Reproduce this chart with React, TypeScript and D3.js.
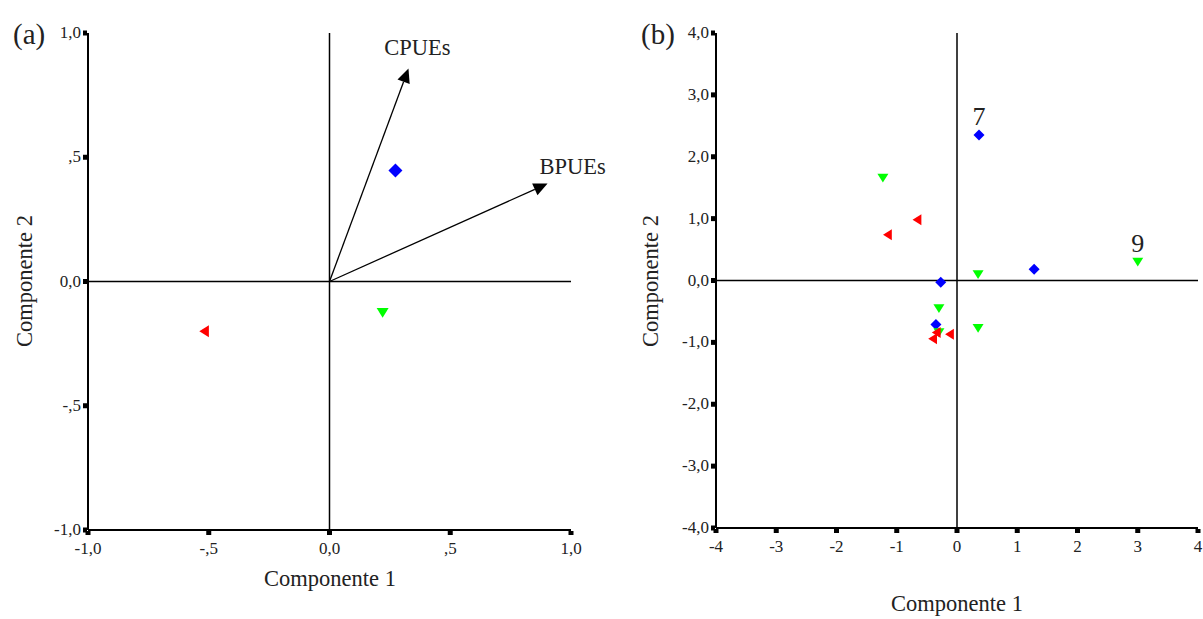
import React from "react";
import * as d3 from "d3";

// Panel (a) data
const aXTicks = [-1, -0.5, 0, 0.5, 1];
const aYTicks = [-1, -0.5, 0, 0.5, 1];
const aTickLabels = ["-1,0", "-,5", "0,0", ",5", "1,0"];
const vectorNames = ["CPUEs", "BPUEs"];
const vectorX = [0.327, 0.903];
const vectorY = [0.857, 0.394];
const aPointGroup = ["diamond", "down", "left"];
const aPointX = [0.273, 0.22, -0.518];
const aPointY = [0.447, -0.125, -0.2];

// Panel (b) data
const bXTicks = [-4, -3, -2, -1, 0, 1, 2, 3, 4];
const bXTickLabels = ["-4", "-3", "-2", "-1", "0", "1", "2", "3", "4"];
const bYTicks = [-4, -3, -2, -1, 0, 1, 2, 3, 4];
const bYTickLabels = ["-4,0", "-3,0", "-2,0", "-1,0", "0,0", "1,0", "2,0", "3,0", "4,0"];
const bPointGroup = [
  "diamond", "diamond", "diamond", "diamond",
  "down", "down", "down", "down", "down", "down",
  "left", "left", "left", "left", "left",
];
const bPointX = [0.365, 1.28, -0.27, -0.35, -1.23, 0.35, 3.0, -0.3, 0.35, -0.3, -0.66, -1.15, -0.12, -0.34, -0.4];
const bPointY = [2.35, 0.18, -0.03, -0.71, 1.66, 0.1, 0.3, -0.45, -0.77, -0.84, 0.98, 0.74, -0.87, -0.84, -0.94];
const bLabelIdx = [0, 6];
const bLabelText = ["7", "9"];

const FONT = "Liberation Serif, DejaVu Serif, serif";
const colors: Record<string, string> = { diamond: "#0000ff", down: "#00ff00", left: "#ff0000" };

function Marker({ type, x, y, s }: { type: string; x: number; y: number; s: number }) {
  let d = "";
  if (type === "diamond") {
    d = `M${x},${y - s}L${x + s},${y}L${x},${y + s}L${x - s},${y}Z`;
  } else if (type === "down") {
    d = `M${x - s},${y - s * 0.75}L${x + s},${y - s * 0.75}L${x},${y + s * 0.85}Z`;
  } else {
    d = `M${x - s * 0.85},${y}L${x + s * 0.75},${y - s}L${x + s * 0.75},${y + s}Z`;
  }
  return <path d={d} fill={colors[type]} />;
}

function Frame({
  x, y, xTicks, yTicks, xLabels, yLabels,
}: {
  x: d3.ScaleLinear<number, number>;
  y: d3.ScaleLinear<number, number>;
  xTicks: number[]; yTicks: number[]; xLabels: string[]; yLabels: string[];
}) {
  const [x0, x1] = x.range();
  const [y0, y1] = y.range();
  return (
    <g>
      <line x1={x0} x2={x1} y1={y(0)} y2={y(0)} stroke="#000" strokeWidth={1.5} />
      <line x1={x(0)} x2={x(0)} y1={y0} y2={y1} stroke="#000" strokeWidth={1.5} />
      <line x1={x0} x2={x1} y1={y0} y2={y0} stroke="#000" strokeWidth={2} />
      <line x1={x0} x2={x0} y1={y0} y2={y1} stroke="#000" strokeWidth={2} />
      {xTicks.map((t, i) => (
        <g key={"x" + i}>
          <rect x={x(t) - 2.5} y={y0 + 1} width={5} height={4} fill="#000" />
          <text x={x(t)} y={y0 + 24} textAnchor="middle" fontSize={17} fontFamily={FONT} fill="#222">
            {xLabels[i]}
          </text>
        </g>
      ))}
      {yTicks.map((t, i) => (
        <g key={"y" + i}>
          <rect x={x0 - 5} y={y(t) - 2.5} width={4} height={5} fill="#000" />
          <text x={x0 - 7} y={y(t) + 5} textAnchor="end" fontSize={17} fontFamily={FONT} fill="#222">
            {yLabels[i]}
          </text>
        </g>
      ))}
    </g>
  );
}

export default function App() {
  const ax = d3.scaleLinear().domain([-1, 1]).range([88, 571]);
  const ay = d3.scaleLinear().domain([-1, 1]).range([530, 33]);
  const bx = d3.scaleLinear().domain([-4, 4]).range([716, 1198]);
  const by = d3.scaleLinear().domain([-4, 4]).range([528, 33]);

  const arrow = (tx: number, ty: number, ox: number, oy: number) => {
    const ang = Math.atan2(ty - oy, tx - ox);
    const L = 14, W = 6.5;
    const bxp = tx - L * Math.cos(ang), byp = ty - L * Math.sin(ang);
    const px = -Math.sin(ang) * W, py = Math.cos(ang) * W;
    return {
      shaft: [bxp, byp],
      head: `M${tx},${ty}L${bxp + px},${byp + py}L${bxp - px},${byp - py}Z`,
    };
  };

  return (
    <svg width={1203} height={619} style={{ position: "absolute", left: 0, top: 0, background: "#fff" }}>
      <rect width={1203} height={619} fill="#fff" />
      {/* Panel (a) */}
      <text x={13} y={44} fontSize={29} fontFamily={FONT} fill="#222">(a)</text>
      <Frame x={ax} y={ay} xTicks={aXTicks} yTicks={aYTicks} xLabels={aTickLabels} yLabels={aTickLabels} />
      {vectorNames.map((n, i) => {
        const a = arrow(ax(vectorX[i]), ay(vectorY[i]), ax(0), ay(0));
        return (
          <g key={n}>
            <line x1={ax(0)} y1={ay(0)} x2={a.shaft[0]} y2={a.shaft[1]} stroke="#000" strokeWidth={1.3} />
            <path d={a.head} fill="#000" />
            <text
              x={ax(vectorX[i]) + (i === 0 ? 9 : 25)}
              y={ay(vectorY[i]) - (i === 0 ? 14 : 10)}
              textAnchor="middle" fontSize={22.5} fontFamily={FONT} fill="#222"
            >
              {n}
            </text>
          </g>
        );
      })}
      {aPointGroup.map((g, i) => (
        <Marker key={i} type={g} x={ax(aPointX[i])} y={ay(aPointY[i])} s={g === "diamond" ? 7 : 6} />
      ))}
      <text x={330} y={586} textAnchor="middle" fontSize={22.5} fontFamily={FONT} fill="#222">Componente 1</text>
      <text transform={`translate(32,281) rotate(-90)`} textAnchor="middle" fontSize={22.5} fontFamily={FONT} fill="#222">
        Componente 2
      </text>

      {/* Panel (b) */}
      <text x={641} y={44} fontSize={29} fontFamily={FONT} fill="#222">(b)</text>
      <Frame x={bx} y={by} xTicks={bXTicks} yTicks={bYTicks} xLabels={bXTickLabels} yLabels={bYTickLabels} />
      {bPointGroup.map((g, i) => (
        <Marker key={i} type={g} x={bx(bPointX[i])} y={by(bPointY[i])} s={5.5} />
      ))}
      {bLabelIdx.map((idx, i) => (
        <text key={i} x={bx(bPointX[idx])} y={by(bPointY[idx]) - 10} textAnchor="middle" fontSize={26} fontFamily={FONT} fill="#222">
          {bLabelText[i]}
        </text>
      ))}
      <text x={957} y={611} textAnchor="middle" fontSize={22.5} fontFamily={FONT} fill="#222">Componente 1</text>
      <text transform={`translate(658,281) rotate(-90)`} textAnchor="middle" fontSize={22.5} fontFamily={FONT} fill="#222">
        Componente 2
      </text>
    </svg>
  );
}
